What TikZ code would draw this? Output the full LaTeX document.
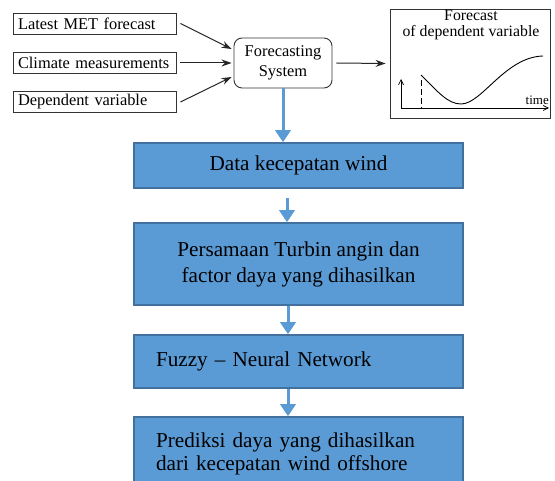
\documentclass[tikz,border=0pt]{standalone}
\usepackage{fontspec}
\setmainfont{Liberation Serif}
\usetikzlibrary{arrows.meta,calc}
\definecolor{bfill}{HTML}{5B9BD5}
\definecolor{bline}{HTML}{41719C}
\tikzset{
  inbox/.style={draw=black!80, line width=0.9pt, rectangle, minimum width=163pt, minimum height=21pt, text width=153pt, inner xsep=5pt, inner ysep=0pt, align=left, font=\fontsize{16.4}{17}\selectfont},
  blkarrow/.style={-{Stealth[length=10pt,width=7pt]}, line width=1pt, black!85},
  bluebox/.style={draw=bline, line width=1.5pt, fill=bfill, rectangle, minimum width=329pt, inner sep=0pt, font=\fontsize{21.2}{26}\selectfont},
  bluearrow/.style={-{Triangle[length=12pt,width=15pt]}, line width=3pt, bfill},
}
\begin{document}
\begin{tikzpicture}[x=1pt,y=-1pt]
\useasboundingbox (0,0) rectangle (555,481);
\clip (0,0) rectangle (555,481);
% inputs
\node[inbox] (met) at (94.5,23.5) {Latest MET forecast};
\node[inbox] (clim) at (94.5,63) {Climate measurements};
\node[inbox] (dep) at (94.5,102) {Dependent variable};
\node[draw=black!80, line width=0.9pt, rounded corners=8pt, minimum width=98pt, minimum height=50pt, align=center, inner sep=0pt, font=\fontsize{16.4}{20}\selectfont] (fs) at (283,63) {Forecasting\\System};
\draw[blkarrow] ($(met.east)+(4,0)$) -- ($(fs.west)+(-2,-14)$);
\draw[blkarrow] ($(clim.east)+(4,0)$) -- ($(fs.west)+(-2,0)$);
\draw[blkarrow] ($(dep.east)+(4,0)$) -- ($(fs.west)+(-2,14)$);
% plot
\node[draw=black!80, line width=0.9pt, minimum width=160pt, minimum height=109pt, inner sep=0pt] (plot) at (470,63.5) {};
\draw[blkarrow] ($(fs.east)+(4,0)$) -- ($(plot.west)+(-4,0)$);
\node[font=\fontsize{15.8}{16.5}\selectfont, inner sep=0pt, align=center] (ttl) at (471,25) {Forecast\\of dependent variable};
\coordinate (org) at (401,108);
\coordinate (ytop) at (401,79);
\coordinate (xend) at (549,108);
\draw[line width=0.7pt, -{Straight Barb[length=5pt,width=5pt]}] (org) -- (ytop);
\draw[line width=0.7pt, -{Straight Barb[length=5pt,width=5pt]}] (org) -- (xend);
\node[font=\fontsize{13}{14}\selectfont, inner sep=0pt, anchor=south east] (time) at (549,105) {time};
\draw[line width=0.8pt, dash pattern=on 6pt off 3pt] (421,80) -- (421,108);
\draw[line width=0.9pt] (421,75) .. controls (438,92) and (448,104) .. (461,104)
  .. controls (482,104) and (505,57) .. (543,56);
% flow
\node[bluebox, minimum height=45pt] (b1) at (298.5,165.5) {Data kecepatan wind};
\node[bluebox, minimum height=82pt, align=center] (b2) at (298.5,264) {Persamaan Turbin angin dan\\factor daya yang dihasilkan};
\node[bluebox, minimum height=53pt, text width=285pt, align=left, inner xsep=22pt] (b3) at (298.5,361.5) {Fuzzy -- Neural Network};
\node[bluebox, minimum height=73pt, text width=285pt, align=left, inner xsep=22pt, font=\fontsize{21.2}{23}\selectfont] (b4) at (298.5,453.5) {Prediksi daya yang dihasilkan\\dari kecepatan wind offshore};
\draw[bluearrow] (fs.south) -- (fs.south |- b1.north);
\coordinate (a2s) at (287,198);
\draw[bluearrow] (a2s) -- (a2s |- b2.north);
\coordinate (a3s) at (288,306);
\draw[bluearrow] (a3s) -- (a3s |- b3.north);
\coordinate (a4s) at (288,389);
\draw[bluearrow] (a4s) -- (a4s |- b4.north);
\end{tikzpicture}
\end{document}
